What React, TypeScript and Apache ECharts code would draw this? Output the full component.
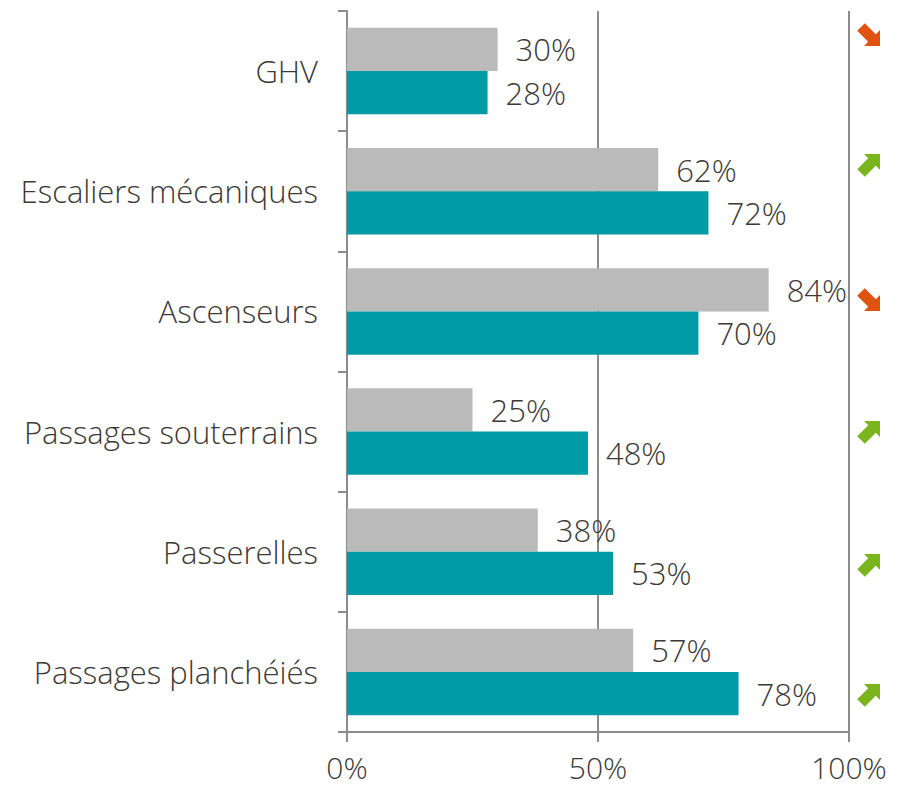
import React, { useEffect, useRef } from "react";
import * as echarts from "echarts";

const categories = [
  "GHV",
  "Escaliers mécaniques",
  "Ascenseurs",
  "Passages souterrains",
  "Passerelles",
  "Passages planchéiés",
];
const grayValues = [30, 62, 84, 25, 38, 57];
const tealValues = [28, 72, 70, 48, 53, 78];
const trends = ["down", "up", "down", "up", "up", "up"];
const xTicks = [0, 50, 100];

const arrowYs = [35, 165, 300, 432, 565, 695];

const TEXT = "#3d3935";
const AXIS = "#8c8c8c";
const FONT = "Open Sans";
const FS = 31;

function arrowPoints(up: boolean): number[][] {
  const pts = [
    [-5, -11],
    [11, -11],
    [11, 5],
    [6.8, 0.8],
    [-4.2, 11.8],
    [-11.8, 4.2],
    [-0.8, -6.8],
  ];
  return up ? pts : pts.map(([x, y]) => [x, -y]);
}

export default function App() {
  const ref = useRef<HTMLDivElement>(null);
  useEffect(() => {
    if (!ref.current) return;
    const chart = echarts.init(ref.current, undefined, { renderer: "svg" });
    const labelStyle = {
      show: true,
      position: "right" as const,
      distance: 18,
      color: TEXT,
      fontSize: FS,
      fontFamily: FONT,
      fontWeight: 300,
      formatter: "{c}%",
    };
    chart.setOption({
      animation: false,
      textStyle: { fontFamily: FONT },
      grid: { left: 347, right: 66, top: 11, bottom: 57, containLabel: false },
      xAxis: {
        type: "value",
        min: xTicks[0],
        max: xTicks[xTicks.length - 1],
        interval: 50,
        axisLine: { show: true, lineStyle: { color: AXIS, width: 2 } },
        axisTick: { show: true, length: 10, lineStyle: { color: AXIS, width: 2 } },
        splitLine: { show: true, lineStyle: { color: AXIS, width: 2 } },
        axisLabel: {
          color: TEXT,
          fontSize: 30,
          lineHeight: 30,
          fontFamily: FONT,
          fontWeight: 300,
          margin: 20,
          formatter: "{value}%",
        },
      },
      yAxis: {
        type: "category",
        inverse: true,
        data: categories,
        axisLine: { show: true, lineStyle: { color: AXIS, width: 2 } },
        axisTick: { show: true, length: 9, lineStyle: { color: AXIS, width: 2 } },
        axisLabel: { color: TEXT, fontSize: FS, fontFamily: FONT, fontWeight: 300, margin: 29 },
      },
      series: [
        {
          type: "bar",
          data: grayValues,
          barGap: "0%",
          barCategoryGap: "28%",
          itemStyle: { color: "#bababa" },
          label: labelStyle,
        },
        {
          type: "bar",
          data: tealValues,
          barGap: "0%",
          barCategoryGap: "28%",
          itemStyle: { color: "#009ba5" },
          label: labelStyle,
        },
      ],
      graphic: trends.map((t, i) => ({
        type: "polygon",
        x: 869,
        y: arrowYs[i],
        shape: { points: arrowPoints(t === "up") },
        style: { fill: t === "up" ? "#7ab51d" : "#e0520f" },
      })),
    });
    return () => chart.dispose();
  }, []);
  return <div ref={ref} style={{ width: 915, height: 789, position: "absolute", left: 0, top: 0 }} />;
}
